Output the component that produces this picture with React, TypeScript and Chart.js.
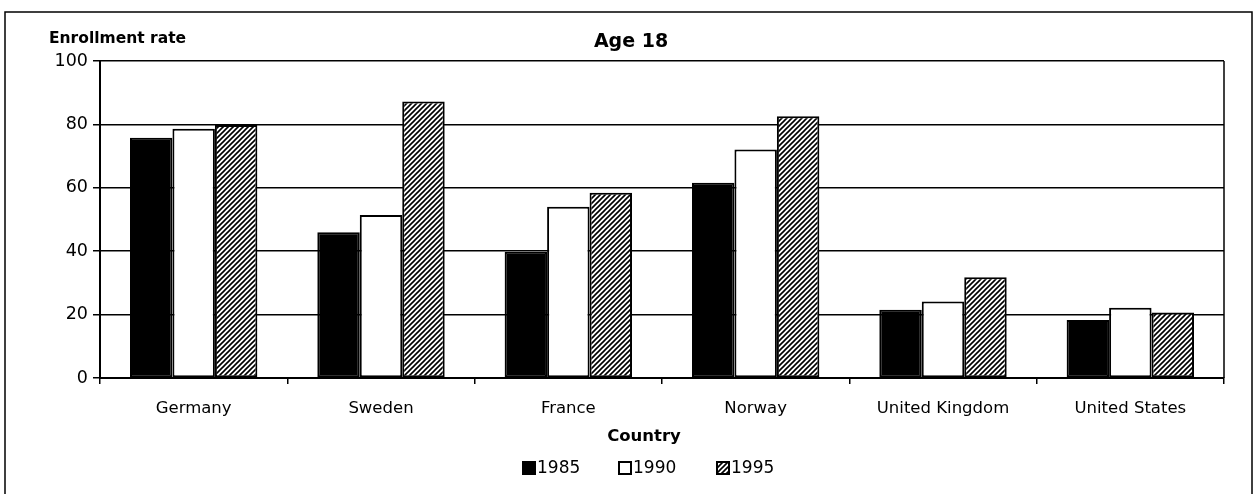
import React, { useEffect, useRef } from "react";
import { Chart, registerables } from "chart.js";

Chart.register(...registerables);

const countries = ["Germany", "Sweden", "France", "Norway", "United Kingdom", "United States"];
const years = ["1985", "1990", "1995"];
const rate1985 = [75.8, 46, 39.8, 61.6, 21.5, 18.3];
const rate1990 = [78.6, 51.4, 54, 72.1, 24.1, 22.2];
const rate1995 = [79.8, 87.2, 58.4, 82.6, 31.8, 20.7];
const yTicks = [0, 20, 40, 60, 80, 100];

const FONT = "'DejaVu Sans', 'Liberation Sans', Arial, sans-serif";

function makeHatch(): CanvasPattern | string {
  const c = document.createElement("canvas");
  c.width = 5;
  c.height = 5;
  const g = c.getContext("2d");
  if (!g) return "#888";
  g.fillStyle = "#fff";
  g.fillRect(0, 0, 5, 5);
  g.strokeStyle = "#000";
  g.lineWidth = 1.6;
  g.beginPath();
  for (let k = -1; k <= 1; k++) {
    g.moveTo(k * 5 - 1, 6);
    g.lineTo(k * 5 + 6, -1);
  }
  g.stroke();
  const p = g.createPattern(c, "repeat");
  return p || "#888";
}

export default function App() {
  const ref = useRef<HTMLCanvasElement>(null);
  useEffect(() => {
    if (!ref.current) return;
    const hatch = makeHatch();
    const fills = ["#000", "#fff", hatch];
    const values = [rate1985, rate1990, rate1995];
    const legendBoxX = [523, 619, 717];

    const decor = {
      id: "decor",
      afterDraw(chart: any) {
        const ctx = chart.ctx;
        const a = chart.chartArea;
        ctx.save();
        ctx.strokeStyle = "#000";
        ctx.lineWidth = 1.5;
        ctx.beginPath();
        ctx.moveTo(a.right, a.top);
        ctx.lineTo(a.right, a.bottom);
        ctx.stroke();
        // outer frame
        ctx.lineWidth = 1.5;
        ctx.beginPath();
        ctx.moveTo(5, 494);
        ctx.lineTo(5, 12);
        ctx.lineTo(1252, 12);
        ctx.lineTo(1252, 494);
        ctx.stroke();
        ctx.fillStyle = "#000";
        ctx.textBaseline = "middle";
        ctx.textAlign = "left";
        ctx.font = `bold 15.5px ${FONT}`;
        ctx.fillText("Enrollment rate", 49, 39);
        ctx.textAlign = "center";
        ctx.font = `bold 19px ${FONT}`;
        ctx.fillText("Age 18", 631, 42);
        ctx.font = `bold 16.5px ${FONT}`;
        ctx.fillText("Country", 644, 437);
        // legend
        ctx.font = `17px ${FONT}`;
        ctx.textAlign = "left";
        years.forEach((y, i) => {
          const bx = legendBoxX[i];
          ctx.fillStyle = fills[i] as any;
          ctx.fillRect(bx, 462, 12, 12);
          ctx.strokeStyle = "#000";
          ctx.lineWidth = 2;
          ctx.strokeRect(bx, 462, 12, 12);
          ctx.fillStyle = "#000";
          ctx.fillText(y, bx + 14, 469);
        });
        ctx.restore();
      },
    };

    const chart = new Chart(ref.current, {
      type: "bar",
      data: {
        labels: countries,
        datasets: years.map((y, i) => ({
          label: y,
          data: values[i],
          backgroundColor: fills[i] as any,
          borderColor: "#000",
          borderWidth: 2,
          borderSkipped: false,
        })),
      },
      options: {
        animation: false,
        responsive: false,
        maintainAspectRatio: false,
        datasets: { bar: { categoryPercentage: 0.68, barPercentage: 1 } },
        layout: { padding: { left: 0, right: 32, top: 61, bottom: 0 } },
        plugins: {
          title: { display: false },
          tooltip: { enabled: false },
          legend: { display: false },
        },
        scales: {
          x: {
            offset: true,
            afterFit: (s: any) => {
              s.height = 116;
            },
            grid: {
              display: true,
              offset: true,
              drawOnChartArea: false,
              drawTicks: true,
              tickLength: 6,
              color: "#000",
              lineWidth: 1.5,
            },
            border: { display: true, color: "#000", width: 2 },
            ticks: {
              color: "#000",
              font: { family: FONT, size: 16.5 },
              padding: 15,
              maxRotation: 0,
              autoSkip: false,
            },
          },
          y: {
            min: 0,
            max: 100,
            afterFit: (s: any) => {
              s.width = 100;
            },
            afterBuildTicks: (s: any) => {
              s.ticks = yTicks.map((v) => ({ value: v }));
            },
            grid: {
              display: true,
              color: "#000",
              lineWidth: 1.5,
              drawTicks: true,
              tickLength: 7,
            },
            border: { display: true, color: "#000", width: 2 },
            ticks: {
              color: "#000",
              font: { family: FONT, size: 17.5 },
              padding: 5,
            },
          },
        },
      },
      plugins: [decor],
    });
    return () => chart.destroy();
  }, []);

  return (
    <div style={{ position: "absolute", left: 0, top: 0, width: 1256, height: 494, background: "#fff" }}>
      <canvas ref={ref} width={1256} height={494} style={{ display: "block" }} />
    </div>
  );
}
